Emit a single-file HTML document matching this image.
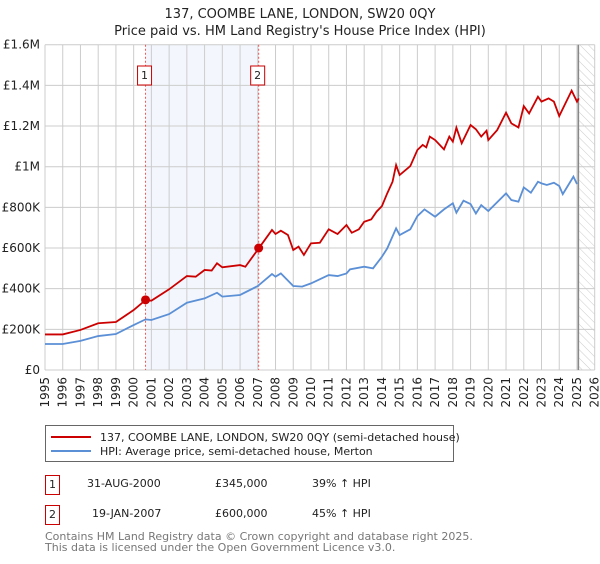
<!DOCTYPE html>
<html><head><meta charset="utf-8"><style>
body{margin:0;background:#fff;font-family:"DejaVu Sans","Liberation Sans",sans-serif;}
svg text{font-family:"DejaVu Sans","Liberation Sans",sans-serif;}
</style></head><body>
<svg id="c" width="600" height="560" xmlns="http://www.w3.org/2000/svg">
<defs><pattern id="hatch" width="6" height="6" patternUnits="userSpaceOnUse" patternTransform="rotate(-45)"><line x1="0" y1="0" x2="0" y2="6" stroke="#ccc" stroke-width="1"/></pattern></defs>
<text x="300" y="18" text-anchor="middle" font-size="13" fill="#222">137, COOMBE LANE, LONDON, SW20 0QY</text>
<text x="300" y="35" text-anchor="middle" font-size="13" fill="#222">Price paid vs. HM Land Registry's House Price Index (HPI)</text>
<g id="plot"></g>
<g>
<rect x="45.5" y="425.5" width="408" height="36" fill="#fff" stroke="#666"/>
<line x1="51" y1="437" x2="91" y2="437" stroke="#cc0000" stroke-width="2"/>
<text x="100" y="441" font-size="11" fill="#222">137, COOMBE LANE, LONDON, SW20 0QY (semi-detached house)</text>
<line x1="51" y1="451" x2="91" y2="451" stroke="#5b8fd6" stroke-width="2"/>
<text x="100" y="455" font-size="11" fill="#222">HPI: Average price, semi-detached house, Merton</text>
</g>
<g font-size="11" fill="#222">
<rect x="45.5" y="475.5" width="14" height="19" fill="#fff" stroke="#cc0000"/>
<text x="52.5" y="488" text-anchor="middle">1</text>
<text x="87" y="487">31-AUG-2000</text>
<text x="215" y="487">£345,000</text>
<text x="312" y="487">39% ↑ HPI</text>
<rect x="45.5" y="505.5" width="14" height="19" fill="#fff" stroke="#cc0000"/>
<text x="52.5" y="518" text-anchor="middle">2</text>
<text x="92" y="517">19-JAN-2007</text>
<text x="215" y="517">£600,000</text>
<text x="312" y="517">45% ↑ HPI</text>
</g>
<text x="45" y="540" font-size="11" fill="#777">Contains HM Land Registry data © Crown copyright and database right 2025.</text>
<text x="45" y="551" font-size="11" fill="#777">This data is licensed under the Open Government Licence v3.0.</text>
</svg>
<script>
const hpiYears=[1995,1996,1997,1998,1999,2000,2000.67,2001,2002,2003,2004,2004.7,2005,2006,2007,2007.8,2008,2008.3,2009,2009.5,2010,2011,2011.5,2012,2012.2,2013,2013.5,2014,2014.3,2014.8,2015,2015.6,2016,2016.4,2017,2017.5,2018,2018.2,2018.6,2019,2019.3,2019.6,2020,2021,2021.3,2021.7,2022,2022.4,2022.8,2023,2023.3,2023.7,2024,2024.2,2024.8,2025];
const hpiValues=[128,128,143,167,177,221,249,246,275,331,352,380,361,369,413,472,459,475,413,410,426,467,462,475,495,508,500,557,598,697,664,692,757,790,754,790,820,774,833,816,770,811,782,869,836,828,898,872,926,918,910,921,905,865,951,915];
const priceYears=[1995,1996,1997,1998,1999,2000,2000.67,2001,2002,2003,2003.5,2004,2004.4,2004.7,2005,2006,2006.3,2007.05,2007.8,2008,2008.3,2008.7,2009,2009.3,2009.6,2010,2010.5,2011,2011.5,2012,2012.3,2012.7,2013,2013.4,2013.7,2014,2014.3,2014.6,2014.8,2015,2015.6,2016,2016.3,2016.5,2016.7,2017,2017.5,2017.8,2018,2018.2,2018.5,2019,2019.3,2019.6,2019.9,2020,2020.5,2021,2021.3,2021.7,2022,2022.3,2022.8,2023,2023.4,2023.7,2024,2024.3,2024.7,2025,2025.1];
const priceValues=[175,175,197,230,236,295,344,341,397,462,459,492,489,525,505,516,508,598,689,669,685,664,590,607,566,623,626,692,669,713,675,692,729,741,779,806,869,926,1008,959,1003,1082,1107,1095,1148,1131,1085,1148,1123,1192,1115,1205,1184,1148,1177,1131,1180,1266,1213,1193,1298,1262,1344,1320,1336,1320,1249,1303,1374,1320,1336];
const saleYears=[2000.67,2007.05];
const saleValues=[345,600];
const saleLabels=["1","2"];
const yTicks=[0,200,400,600,800,1000,1200,1400,1600];
const yTickLabels=["£0","£200K","£400K","£600K","£800K","£1M","£1.2M","£1.4M","£1.6M"];
const xTicks=[1995,1996,1997,1998,1999,2000,2001,2002,2003,2004,2005,2006,2007,2008,2009,2010,2011,2012,2013,2014,2015,2016,2017,2018,2019,2020,2021,2022,2023,2024,2025,2026];

const L=45,R=594.7,T=44.7,B=370;
const x=y=>L+(y-1995)/31*(R-L);
const yv=v=>B-v/1600*(B-T);
const NS="http://www.w3.org/2000/svg";
const g=document.getElementById('plot');
function mk(tag,attrs){const e=document.createElementNS(NS,tag);for(const k in attrs)e.setAttribute(k,attrs[k]);g.appendChild(e);return e;}
let e=mk('rect',{x:x(saleYears[0]),y:T,width:x(saleYears[1])-x(saleYears[0]),height:B-T,fill:'#eef3fc',opacity:0.7});


e=mk('rect',{x:x(2025.08),y:T,width:R-x(2025.08),height:B-T,fill:'url(#hatch)'});


yTicks.forEach((t,i)=>{
 let l=mk('line',{x1:L,x2:R,y1:yv(t),y2:yv(t),stroke:'#ccc'});
 
 
 let tx=mk('text',{x:L-5,y:yv(t)+4,'text-anchor':'end','font-size':12,fill:'#222'});
 tx.textContent=yTickLabels[i];
 
 
});
xTicks.forEach(t=>{
 let l=mk('line',{x1:x(t),x2:x(t),y1:T,y2:B,stroke:'#ccc'});
 
 
 let tx=mk('text',{x:0,y:0,'text-anchor':'end','font-size':12,fill:'#222',transform:`translate(${x(t)+4},${B+7}) rotate(-90)`});
 tx.textContent=t;
 
 
});
e=mk('line',{x1:x(2025.08),x2:x(2025.08),y1:T,y2:B,stroke:'#888','stroke-width':1.5});


saleYears.forEach((s,i)=>{
 let l=mk('line',{x1:x(s),x2:x(s),y1:T,y2:B,stroke:'#e55','stroke-dasharray':'2,2'});
 
 
 let r=mk('rect',{x:x(s)-8,y:66,width:14,height:19,fill:'#fff',stroke:'#cc0000'});
 
 
 let tx=mk('text',{x:x(s)-1,y:79,'text-anchor':'middle','font-size':11,fill:'#222'});
 tx.textContent=saleLabels[i];
 
 
});
let p=mk('polyline',{points:hpiYears.map((t,i)=>x(t)+','+yv(hpiValues[i])).join(' '),fill:'none',stroke:'#5b8fd6','stroke-width':1.8});


p=mk('polyline',{points:priceYears.map((t,i)=>x(t)+','+yv(priceValues[i])).join(' '),fill:'none',stroke:'#cc0000','stroke-width':1.8});


saleYears.forEach((s,i)=>{
 let c=mk('circle',{cx:x(s),cy:yv(saleValues[i]),r:4.5,fill:'#cc0000'});
 
 
});
</script>
</body></html>
